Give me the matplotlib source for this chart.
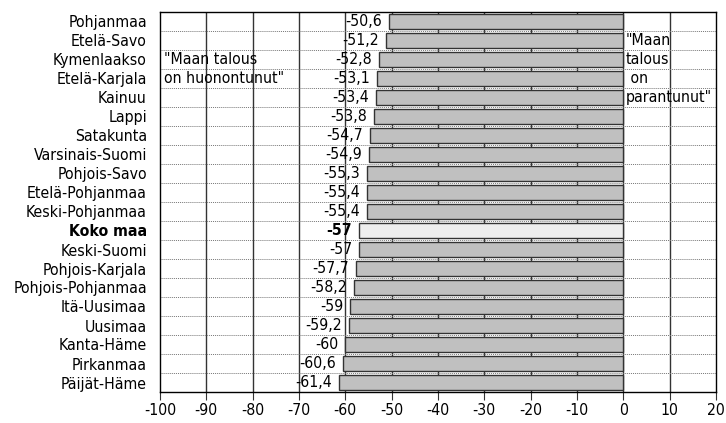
import numpy as np
import matplotlib.pyplot as plt

plt.rcParams['font.family'] = ['DejaVu Sans']
plt.rcParams['font.stretch'] = 'condensed'

regions = ['Pohjanmaa', 'Etelä-Savo', 'Kymenlaakso', 'Etelä-Karjala', 'Kainuu', 'Lappi',
           'Satakunta', 'Varsinais-Suomi', 'Pohjois-Savo', 'Etelä-Pohjanmaa', 'Keski-Pohjanmaa',
           'Koko maa', 'Keski-Suomi', 'Pohjois-Karjala', 'Pohjois-Pohjanmaa', 'Itä-Uusimaa',
           'Uusimaa', 'Kanta-Häme', 'Pirkanmaa', 'Päijät-Häme']
values = [-50.6, -51.2, -52.8, -53.1, -53.4, -53.8, -54.7, -54.9, -55.3, -55.4, -55.4,
          -57, -57, -57.7, -58.2, -59, -59.2, -60, -60.6, -61.4]
xticks = [-100, -90, -80, -70, -60, -50, -40, -30, -20, -10, 0, 10, 20]
left_note = ['"Maan talous', 'on huonontunut"']
right_note = ['"Maan', 'talous', ' on', 'parantunut"']

fs = 11.3

fig = plt.figure(figsize=(7.26, 4.23), dpi=100)
ax = fig.add_axes([160/726, 1-392/423, 556/726, 380/423])

n = len(regions)
y = np.arange(n)
colors = ['#eeeeee' if r == 'Koko maa' else '#c0c0c0' for r in regions]
ax.barh(y, values, height=0.8, color=colors, edgecolor='#333333', linewidth=1, zorder=3)

# vertical grid
for xt in xticks[1:-1]:
    ax.axvline(xt, color='#333333', lw=1, zorder=1)
# dotted horizontal lines between categories
for b in np.arange(n - 1) + 0.5:
    ax.axhline(b, color='#777777', lw=0.7, ls=(0, (1, 1)), zorder=2)

for i, v in enumerate(values):
    lab = ('%g' % v).replace('.', ',')
    bold = 'bold' if regions[i] == 'Koko maa' else 'normal'
    ax.annotate(lab, (v, i), xytext=(-5, 0), textcoords='offset points',
                ha='right', va='center', fontsize=fs, fontweight=bold, zorder=4)

ax.set_xlim(-100, 20)
ax.set_ylim(n - 0.5, -0.5)
ax.set_xticks(xticks)
ax.set_xticklabels([str(t) for t in xticks], fontsize=fs)
ax.set_yticks(y)
ax.set_yticklabels(regions, fontsize=fs)
for t in ax.get_yticklabels():
    if t.get_text() == 'Koko maa':
        t.set_fontweight('bold')
ax.tick_params(axis='y', length=0, pad=9.5)
ax.tick_params(axis='x', length=6, direction='out', pad=2, color='#333333')
for s in ax.spines.values():
    s.set_color('black')
    s.set_linewidth(1)

for k, line in enumerate(left_note):
    ax.text(-99.2, 2 + k, line, fontsize=fs, ha='left', va='center', zorder=4)
for k, line in enumerate(right_note):
    ax.text(0.5, 1 + k, line, fontsize=fs, ha='left', va='center', zorder=4)

fig.savefig('out.png', dpi=100)
